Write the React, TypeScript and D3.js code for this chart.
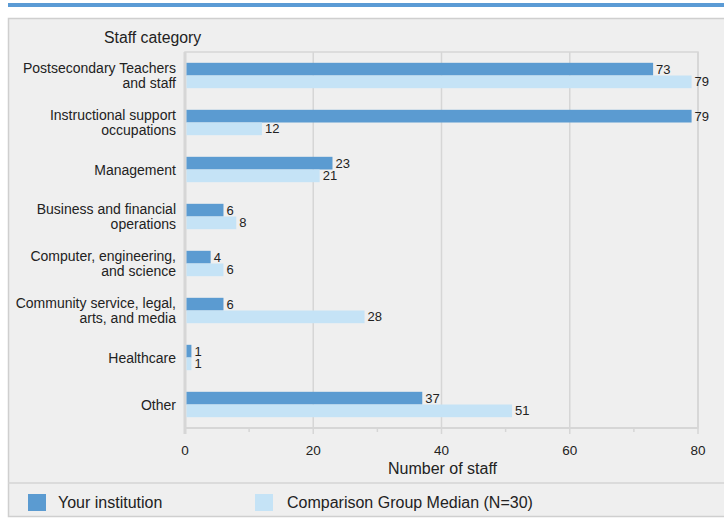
import { useEffect, useRef } from 'react';
import * as d3 from 'd3';

// category labels (multi-line)
const categories = [
  ['Postsecondary Teachers', 'and staff'],
  ['Instructional support', 'occupations'],
  ['Management'],
  ['Business and financial', 'operations'],
  ['Computer, engineering,', 'and science'],
  ['Community service, legal,', 'arts, and media'],
  ['Healthcare'],
  ['Other'],
];
const yourInstitution = [73, 79, 23, 6, 4, 6, 1, 37];
const comparisonMedian = [79, 12, 21, 8, 6, 28, 1, 51];
const xTicks = [0, 20, 40, 60, 80];
const minorTicks = [10, 30, 50, 70];
const seriesNames = ['Your institution', 'Comparison Group Median (N=30)'];

const DARK = '#5b9bd1';
const LIGHT = '#c5e3f6';
const FONT = "'Liberation Sans', Arial, sans-serif";

const App = () => {
  const ref = useRef<SVGSVGElement>(null);

  useEffect(() => {
    document.body.style.margin = '0';
    const svg = d3.select(ref.current);
    svg.selectAll('*').remove();

    const left = 185, right = 698, top = 52, bottom = 428;

    const x = d3.scaleLinear().domain([0, 80]).range([left, right]);
    const y = d3.scaleBand<number>().domain(d3.range(categories.length)).range([top, bottom]).paddingInner(0.46).paddingOuter(0.23);
    const inner = d3.scaleBand<number>().domain([0, 1]).range([0, y.bandwidth()]);

    // top accent bar
    svg.append('rect').attr('x', 8).attr('y', 3).attr('width', 716).attr('height', 4).attr('fill', '#5b9bd5');

    // panel
    svg.append('rect').attr('x', 8.5).attr('y', 18.5).attr('width', 720).attr('height', 498)
      .attr('fill', '#efefef').attr('stroke', '#cfcfcf').attr('stroke-width', 1.5);
    svg.append('line').attr('x1', 8).attr('x2', 724).attr('y1', 483).attr('y2', 483)
      .attr('stroke', '#d4d4d4').attr('stroke-width', 1.5);

    const g = svg.append('g').attr('font-family', FONT).attr('fill', '#222');

    // plot frame
    g.append('rect').attr('x', left).attr('y', top).attr('width', right - left).attr('height', bottom - top)
      .attr('fill', 'none').attr('stroke', '#d6d6d6').attr('stroke-width', 1.5);

    // grid
    g.selectAll('line.grid').data(xTicks.slice(1, -1)).enter().append('line')
      .attr('x1', d => x(d)).attr('x2', d => x(d)).attr('y1', top).attr('y2', bottom + 6)
      .attr('stroke', '#d6d6d6').attr('stroke-width', 1.5);
    g.selectAll('line.edge').data([0, 80]).enter().append('line')
      .attr('x1', d => x(d)).attr('x2', d => x(d)).attr('y1', top).attr('y2', bottom + 6)
      .attr('stroke', '#d6d6d6').attr('stroke-width', d => d === 0 ? 3 : 1.5);
    g.selectAll('line.minor').data(minorTicks).enter().append('line')
      .attr('x1', d => x(d)).attr('x2', d => x(d)).attr('y1', bottom).attr('y2', bottom + 4)
      .attr('stroke', '#d6d6d6').attr('stroke-width', 1.5);
    g.append('line').attr('x1', left).attr('x2', right).attr('y1', bottom).attr('y2', bottom)
      .attr('stroke', '#d6d6d6').attr('stroke-width', 2);

    // tick labels
    g.selectAll('text.tick').data(xTicks).enter().append('text')
      .attr('x', d => x(d)).attr('y', 455).attr('text-anchor', 'middle').attr('font-size', 13.5)
      .text(d => d);
    g.append('text').attr('x', x(40) + 1).attr('y', 474).attr('text-anchor', 'middle').attr('font-size', 16)
      .text('Number of staff');
    g.append('text').attr('x', 104).attr('y', 43).attr('font-size', 15.8).text('Staff category');

    // category labels
    categories.forEach((lines, i) => {
      const cy = (y(i) as number) + y.bandwidth() / 2;
      const t = g.append('text').attr('text-anchor', 'end').attr('font-size', 14);
      const lh = 15;
      lines.forEach((ln, j) => {
        t.append('tspan').attr('x', 176)
          .attr('y', cy + (j - (lines.length - 1) / 2) * lh + 5).text(ln);
      });
    });

    // bars
    const series = [yourInstitution, comparisonMedian];
    const colors = [DARK, LIGHT];
    series.forEach((vals, s) => {
      g.selectAll(`rect.s${s}`).data(vals).enter().append('rect')
        .attr('x', x(0) + 1.5).attr('y', (_, i) => (y(i) as number) + (inner(s) as number))
        .attr('width', d => x(d) - x(0) - 1.5).attr('height', inner.bandwidth())
        .attr('fill', colors[s]);
      g.selectAll(`text.v${s}`).data(vals).enter().append('text')
        .attr('x', d => x(d) + 3).attr('y', (_, i) => (y(i) as number) + (inner(s) as number) + inner.bandwidth() / 2 + 4.5)
        .attr('font-size', 13).text(d => d);
    });

    // legend
    const legendX = [28, 255];
    const legendTextX = [58, 287];
    seriesNames.forEach((name, s) => {
      g.append('rect').attr('x', legendX[s]).attr('y', 494).attr('width', 18).attr('height', 17).attr('fill', colors[s]);
      g.append('text').attr('x', legendTextX[s]).attr('y', 508).attr('font-size', 16).text(name);
    });
  }, []);

  return (
    <div style={{ position: 'absolute', left: 0, top: 0 }}>
      <svg ref={ref} width={724} height={518} style={{ display: 'block' }} />
    </div>
  );
};

export default App;
